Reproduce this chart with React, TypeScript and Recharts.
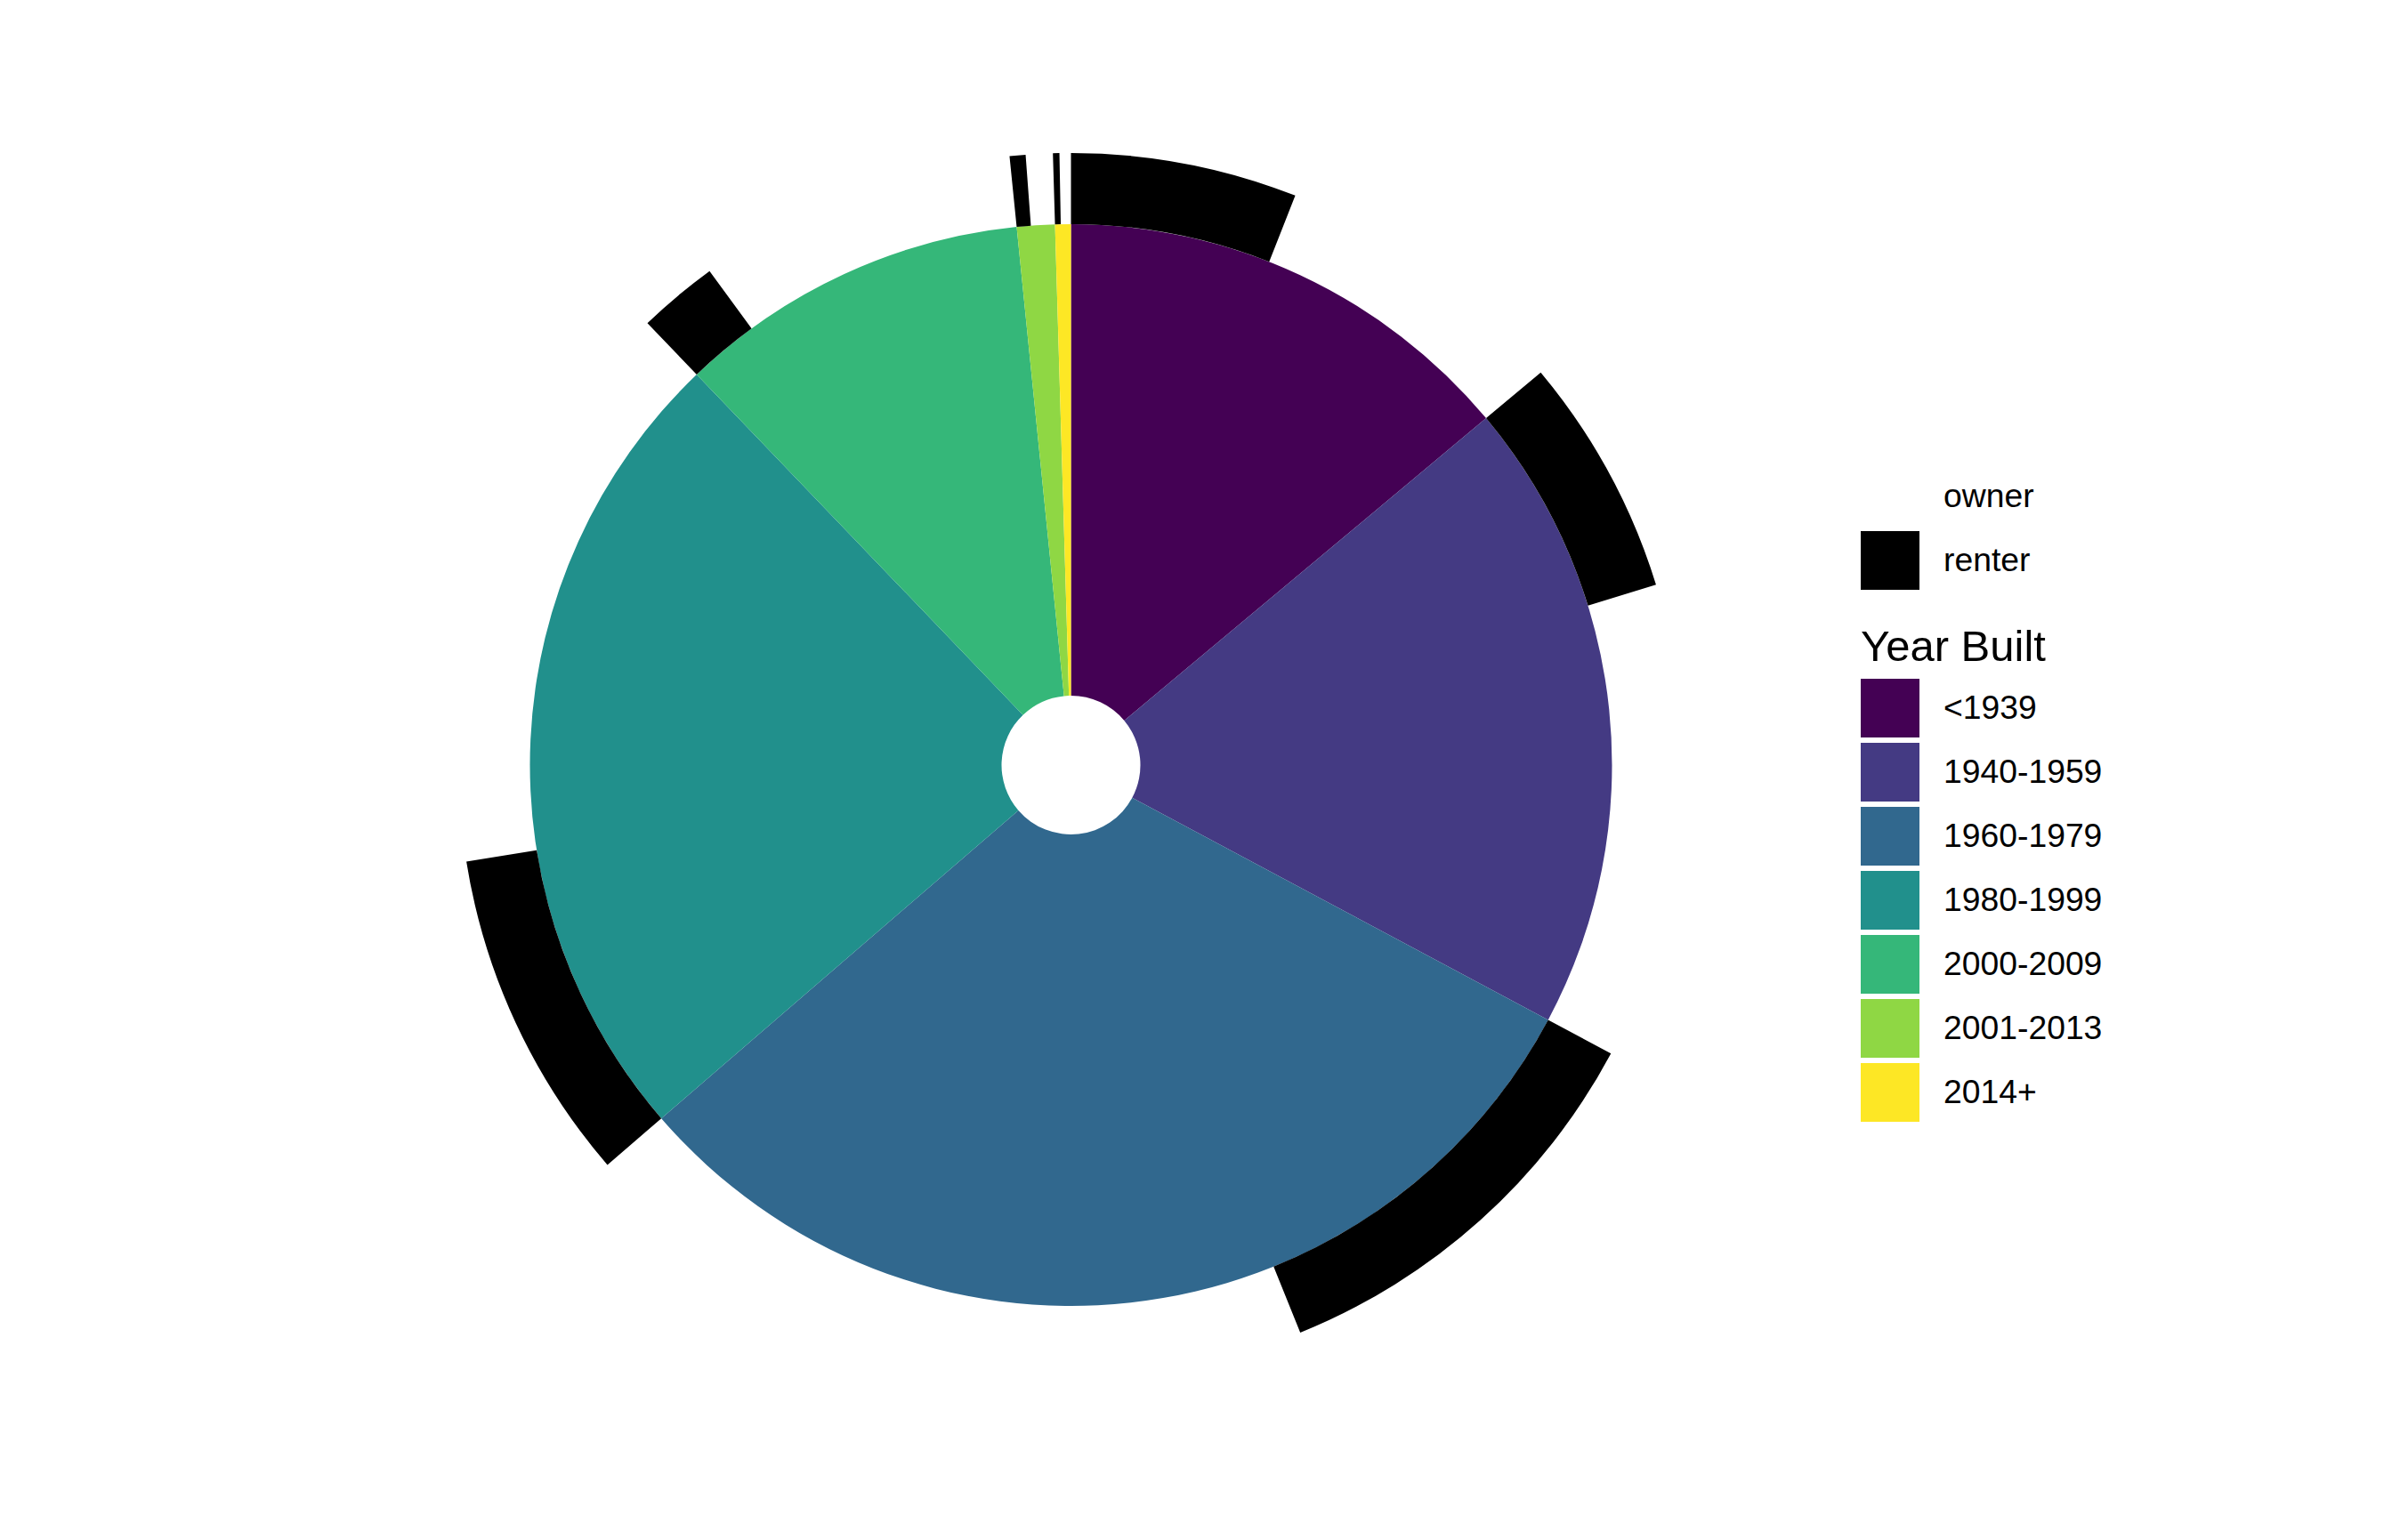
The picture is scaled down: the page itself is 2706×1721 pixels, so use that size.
import { PieChart, Pie, Cell, Legend } from "recharts";

// share of all units (%) by year built
const yearBuilt = ["<1939", "1940-1959", "1960-1979", "1980-1999", "2000-2009", "2001-2013", "2014+"];
const unitShare = [13.92, 18.89, 30.86, 24.17, 10.56, 1.13, 0.47];
// renter part of each slice, also as % of all units
const renterShare = [5.97, 6.32, 11.08, 8.81, 2.11, 0.42, 0.17];
const tenure = ["owner", "renter"];

const yearColors = ["#440154", "#443A83", "#31688E", "#21908C", "#35B779", "#8FD744", "#FDE725"];
const tenureColors: Record<string, string> = { owner: "none", renter: "#000000" };

const inner = yearBuilt.map((y, i) => ({ name: y, value: unitShare[i] }));
const outer = yearBuilt.flatMap((y, i) => [
  { name: "renter", year: y, value: renterShare[i] },
  { name: "owner", year: y, value: unitShare[i] - renterShare[i] },
]);

const FONT = '"Liberation Sans", Arial, sans-serif';
const KEY = 66;
const PITCH = 72;

function LegendBox() {
  const row = (label: string, fill: string, key: string) => (
    <div key={key} style={{ display: "flex", alignItems: "center", height: PITCH }}>
      <div style={{ width: KEY, height: KEY, background: fill }} />
      <span style={{ marginLeft: 27, fontSize: 37.3, color: "#000", lineHeight: 1 }}>{label}</span>
    </div>
  );
  return (
    <div style={{ fontFamily: FONT }}>
      {tenure.map((t) => row(t, tenureColors[t] === "none" ? "transparent" : tenureColors[t], t))}
      <div style={{ fontSize: 49, lineHeight: 1, marginTop: 36, marginBottom: 9, color: "#000" }}>
        Year Built
      </div>
      {yearBuilt.map((y, i) => row(y, yearColors[i], y))}
    </div>
  );
}

export default function App() {
  return (
    <div style={{ position: "absolute", left: 0, top: 0, width: 2706, height: 1721, background: "#fff" }}>
      <PieChart width={2706} height={1721} margin={{ top: 0, right: 0, bottom: 0, left: 0 }}>
        <Pie
          data={inner}
          dataKey="value"
          nameKey="name"
          cx={1203.5}
          cy={860}
          innerRadius={78}
          outerRadius={608}
          startAngle={90}
          endAngle={-270}
          stroke="none"
          isAnimationActive={false}
        >
          {inner.map((d, i) => (
            <Cell key={d.name} fill={yearColors[i]} stroke="none" />
          ))}
        </Pie>
        <Pie
          data={outer}
          dataKey="value"
          nameKey="name"
          cx={1203.5}
          cy={860}
          innerRadius={608}
          outerRadius={688}
          startAngle={90}
          endAngle={-270}
          stroke="none"
          isAnimationActive={false}
        >
          {outer.map((d, i) => (
            <Cell key={i} fill={tenureColors[d.name]} stroke="none" />
          ))}
        </Pie>
        <Legend
          content={<LegendBox />}
          wrapperStyle={{ position: "absolute", left: 2091, top: 522, width: 400 }}
        />
      </PieChart>
    </div>
  );
}
